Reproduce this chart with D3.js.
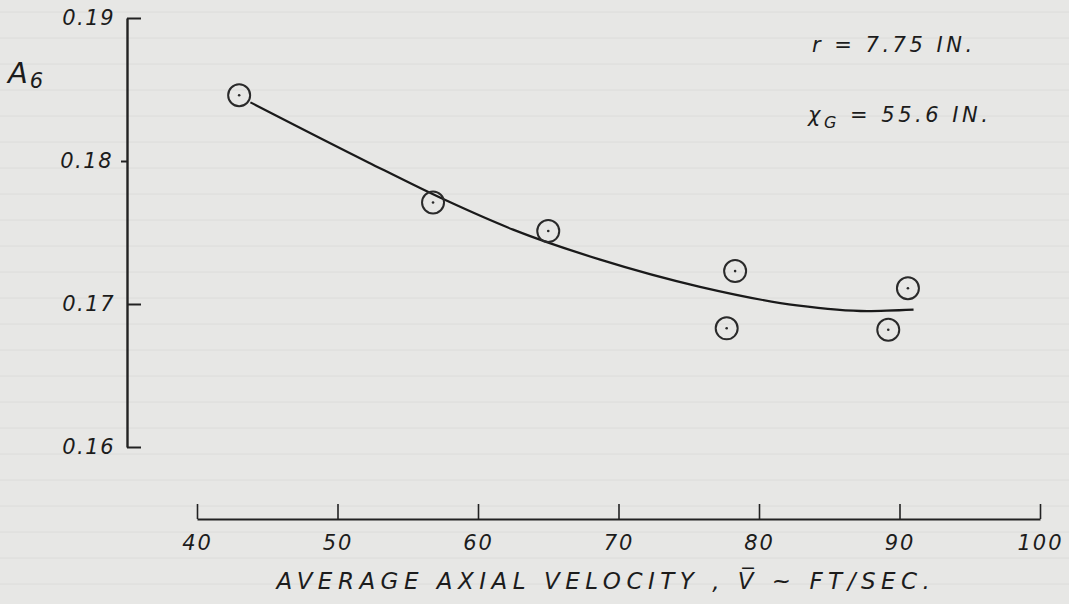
<!DOCTYPE html>
<html>
<head>
<meta charset="utf-8">
<script src="https://cdn.jsdelivr.net/npm/d3@7"></script>
<style>
  body { margin: 0; background: #e7e7e5; }
  svg { display: block; }
  text { font-family: "DejaVu Sans", sans-serif; font-style: italic; fill: #1c1c1c; }
</style>
</head>
<body>
<div id="chart"></div>
<script>
// measured points (velocity ft/sec, A6)
const velocity = [43.0, 56.8, 65.0, 78.3, 77.7, 90.6, 89.2];
const a6 = [0.1846, 0.1771, 0.1751, 0.1723, 0.1683, 0.1711, 0.1682];

// faired curve
const curveV = [43.8, 52.2, 57.6, 62.5, 68.7, 75.8, 82.7, 87.7, 91.0];
const curveA = [0.1841, 0.1799, 0.1773, 0.1752, 0.1731, 0.1712, 0.1699, 0.1695, 0.1696];

const xTicks = [40, 50, 60, 70, 80, 90, 100];
const yTicks = [0.16, 0.17, 0.18, 0.19];

const width = 1069, height = 604;
const svg = d3.select("#chart").append("svg")
  .attr("width", width).attr("height", height);

// faint ruled lines of the paper
const rules = d3.range(12, height, 26);
svg.selectAll("line.rule").data(rules).enter().append("line")
  .attr("class", "rule")
  .attr("x1", 0).attr("x2", width)
  .attr("y1", d => d).attr("y2", d => d)
  .attr("stroke", "#dcdcda").attr("stroke-width", 1);

const x = d3.scaleLinear().domain([40, 100]).range([197, 1040]);
const y = d3.scaleLinear().domain([0.16, 0.19]).range([447, 18]);

// x axis, ticks pointing up
const xAxis = svg.append("g")
  .attr("transform", "translate(0,519)")
  .call(d3.axisBottom(x).tickValues(xTicks).tickSize(-15).tickSizeOuter(0).tickPadding(16)
    .tickFormat(d3.format("d")));
xAxis.select(".domain").attr("stroke", "#222").attr("stroke-width", 2);
xAxis.selectAll(".tick line").attr("stroke", "#222").attr("stroke-width", 1.6);
xAxis.selectAll(".tick text")
  .style("font-size", "21px").style("font-family", "DejaVu Sans, sans-serif")
  .style("font-style", "italic").style("letter-spacing", "2px").attr("fill", "#1c1c1c");

// y axis
const yAxis = svg.append("g")
  .attr("transform", "translate(127,0)")
  .call(d3.axisLeft(y).tickValues(yTicks).tickSize(6).tickSizeOuter(0).tickPadding(12)
    .tickFormat(d3.format(".2f")));
yAxis.select(".domain").attr("stroke", "#222").attr("stroke-width", 2.4);
yAxis.selectAll(".tick line")
  .attr("stroke", "#222").attr("stroke-width", 2)
  .attr("x1", d => d === 0.18 ? -6 : 0)
  .attr("x2", d => d === 0.18 ? 0 : 14);
yAxis.selectAll(".tick text")
  .style("font-size", "21px").style("font-family", "DejaVu Sans, sans-serif")
  .style("font-style", "italic").style("letter-spacing", "1.5px").attr("fill", "#1c1c1c")
  .attr("x", d => d === 0.18 ? -14 : -12);

// fitted curve
const line = d3.line()
  .x((d, i) => x(curveV[i]))
  .y(d => y(d))
  .curve(d3.curveMonotoneX);
svg.append("path")
  .datum(curveA)
  .attr("d", line)
  .attr("fill", "none")
  .attr("stroke", "#1a1a1a")
  .attr("stroke-width", 2.2);

// data circles with centre dot
const pts = svg.selectAll("g.pt").data(velocity).enter().append("g")
  .attr("class", "pt")
  .attr("transform", (d, i) => `translate(${x(d)},${y(a6[i])})`);
pts.append("circle").attr("r", 11)
  .attr("fill", "none").attr("stroke", "#2a2a2a").attr("stroke-width", 2);
pts.append("circle").attr("r", 1.3).attr("fill", "#2a2a2a");

// y label A6
const yl = svg.append("text").attr("x", 8).attr("y", 83).style("font-size", "29px");
yl.append("tspan").text("A");
yl.append("tspan").attr("dy", 5).attr("dx", 2).style("font-size", "21px").text("6");

// x axis title
svg.append("text")
  .attr("x", 606).attr("y", 589)
  .attr("text-anchor", "middle")
  .style("font-size", "23px").style("letter-spacing", "5.5px")
  .text("AVERAGE AXIAL VELOCITY , V\u0305 ~ FT/SEC.");

// annotations
svg.append("text").attr("x", 812).attr("y", 52)
  .style("font-size", "21px").style("letter-spacing", "3.5px")
  .text("r = 7.75 IN.");
const xg = svg.append("text").attr("x", 808).attr("y", 122)
  .style("font-size", "21px").style("letter-spacing", "3.5px");
xg.append("tspan").text("\u03c7");
xg.append("tspan").attr("dy", 6).style("font-size", "16px").text("G");
xg.append("tspan").attr("dy", -6).text(" = 55.6 IN.");
</script>
</body>
</html>
